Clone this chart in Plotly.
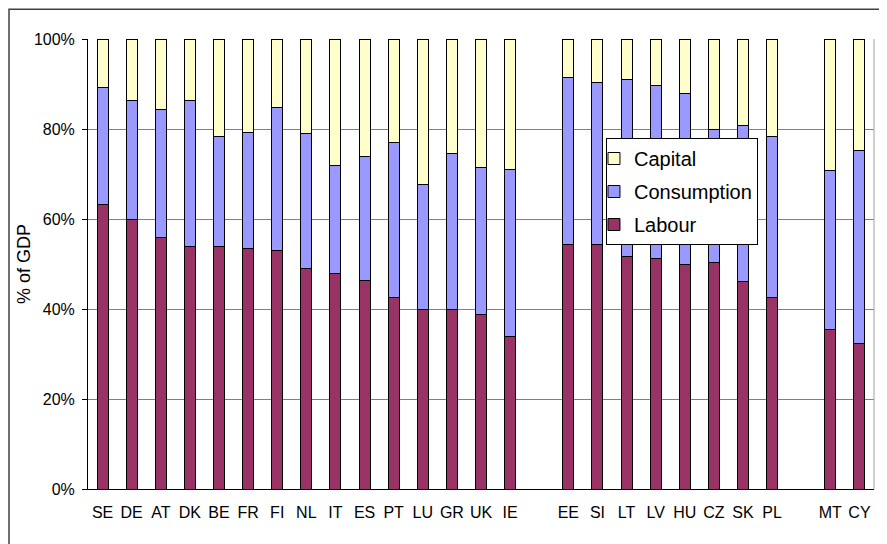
"""
Stacked share chart: labour, consumption and capital taxes as % of GDP.
"""

import plotly.graph_objects as go

# Country codes, with blank slots separating the three country groups
countries = ["SE", "DE", "AT", "DK", "BE", "FR", "FI", "NL", "IT", "ES",
             "PT", "LU", "GR", "UK", "IE", " ",
             "EE", "SI", "LT", "LV", "HU", "CZ", "SK", "PL", "  ",
             "MT", "CY"]

# Shares in percent (blank slots are None)
labour = [63.3, 59.8, 55.8, 54.0, 54.0, 53.4, 53.0, 49.1, 47.9, 46.4,
          42.5, 39.8, 39.9, 38.7, 33.8, None,
          54.4, 54.4, 51.6, 51.2, 49.8, 50.4, 46.1, 42.6, None,
          35.5, 32.3]
consumption = [26.0, 26.6, 28.5, 32.4, 24.3, 25.9, 31.7, 29.8, 23.9, 27.6,
               34.6, 27.8, 34.7, 32.8, 37.3, None,
               37.0, 36.0, 39.5, 38.4, 38.0, 29.4, 34.6, 35.7, None,
               35.2, 43.0]
capital = [10.7, 13.6, 15.7, 13.6, 21.7, 20.7, 15.3, 21.1, 28.2, 26.0,
           22.9, 32.4, 25.4, 28.5, 28.9, None,
           8.6, 9.6, 8.9, 10.4, 12.2, 20.2, 19.3, 21.7, None,
           29.3, 24.7]

# (name, values, fill colour, legend rank)
series = [
    ("Labour", labour, "#993366", 3),
    ("Consumption", consumption, "#9999FF", 2),
    ("Capital", capital, "#FFFFCC", 1),
]

fig = go.Figure()
for name, values, color, rank in series:
    fig.add_trace(go.Bar(
        x=countries,
        y=values,
        name=name,
        legendgroup=name,
        legendrank=rank,
        marker=dict(color=color, line=dict(color="black", width=1)),
        hovertemplate="%{x}: %{y:.1f}%<extra>" + name + "</extra>",
    ))

# The page body adds an 8px offset, so margins are trimmed to compensate
fig.update_layout(
    barmode="stack",
    bargap=0.62,
    width=887,
    height=544,
    margin=dict(l=80, r=21, t=31, b=63),
    paper_bgcolor="white",
    plot_bgcolor="white",
    font=dict(family="Liberation Sans, Arial, sans-serif", size=16, color="black"),
    showlegend=True,
    legend=dict(
        x=0.659, y=0.78, xanchor="left", yanchor="top",
        traceorder="grouped",
        tracegroupgap=4,
        bgcolor="white",
        bordercolor="black",
        borderwidth=1,
        font=dict(size=20),
        indentation=-13,
    ),
    xaxis=dict(
        type="category",
        showline=True,
        linecolor="black",
        linewidth=1,
        ticks="",
        showgrid=False,
        ticklabelstandoff=9,
        tickfont=dict(size=16),
    ),
    yaxis=dict(
        range=[0, 100],
        dtick=20,
        ticksuffix="%",
        showline=True,
        linecolor="black",
        linewidth=1,
        ticks="outside",
        ticklen=5,
        tickcolor="black",
        showgrid=True,
        gridcolor="#808080",
        gridwidth=1,
        zeroline=False,
        ticklabelstandoff=4,
        tickfont=dict(size=16),
    ),
    annotations=[dict(
        text="% of GDP",
        xref="paper", yref="paper",
        x=-0.0814, y=0.5,
        xanchor="center", yanchor="middle",
        textangle=-90,
        showarrow=False,
        font=dict(size=18),
    )],
    shapes=[
        # outer chart frame
        dict(type="rect", xref="paper", yref="paper",
             x0=-0.1005, x1=1.04, y0=-0.2, y1=1.066,
             line=dict(color="#404040", width=1.5), layer="below"),
        # grey right border of the plot area
        dict(type="line", xref="paper", yref="paper",
             x0=1, x1=1, y0=0, y1=1,
             line=dict(color="#a0a0a0", width=1)),
    ],
)

fig.write_html("out.html")
